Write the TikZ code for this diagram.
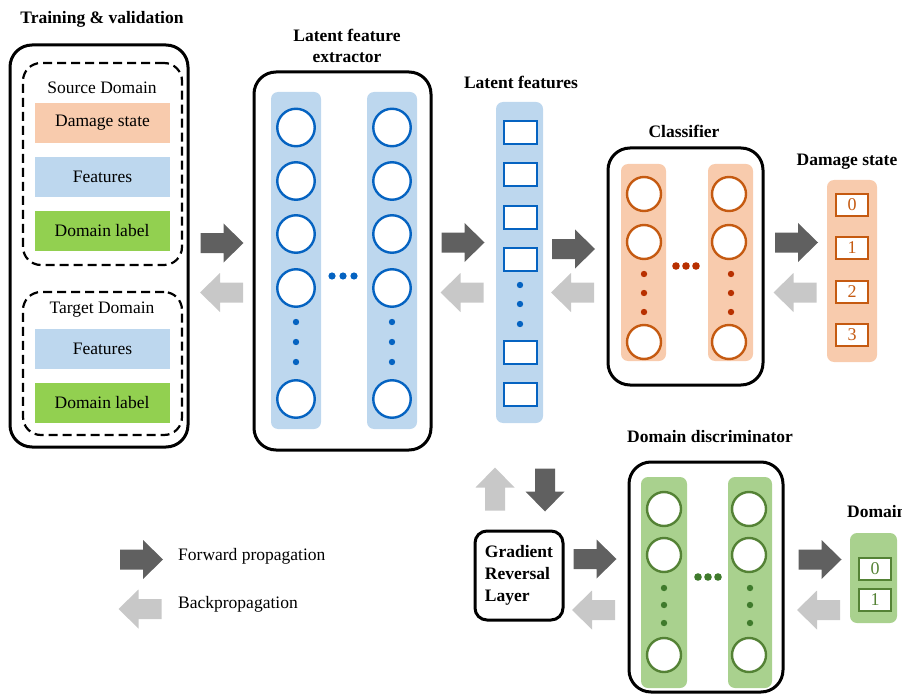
\documentclass[tikz,border=0pt]{standalone}
\usepackage{fontspec}
\setmainfont{Liberation Serif}
\definecolor{bluefill}{HTML}{BDD7EE}
\definecolor{bluedraw}{HTML}{0563C1}
\definecolor{peach}{HTML}{F8CBAD}
\definecolor{orangedraw}{HTML}{C55A11}
\definecolor{reddot}{HTML}{B83000}
\definecolor{greenlab}{HTML}{92D050}
\definecolor{greenfill}{HTML}{A9D18E}
\definecolor{greendraw}{HTML}{548235}
\definecolor{greendot}{HTML}{3F7A2C}
\definecolor{darkarr}{HTML}{606060}
\definecolor{lightarr}{HTML}{C8C8C8}
\begin{document}
\begin{tikzpicture}[x=1pt,y=-1pt,
  every node/.style={font=\fontsize{17.5}{20}\selectfont},
  ttl/.style={font=\fontsize{17.5}{21}\selectfont\bfseries, align=center, inner sep=0pt},
  outer/.style={draw, line width=3pt, rounded corners=22pt, inner sep=0pt},
  dbox/.style={draw, line width=2.2pt, dash pattern=on 9pt off 5pt, rounded corners=18pt, inner sep=0pt},
  lab/.style={minimum width=135pt, minimum height=40pt, inner sep=0pt},
  col/.style={rounded corners=7pt, inner sep=0pt},
  neuron/.style={circle, draw, line width=2.4pt, fill=white, inner sep=0pt},
  cell/.style={draw, line width=2.2pt, fill=white, minimum width=33pt, minimum height=23pt, inner sep=0pt},
  outcell/.style={draw, line width=2pt, fill=white, minimum width=32pt, minimum height=22pt, inner sep=0pt, font=\fontsize{18}{20}\selectfont},
  plain/.style={inner sep=0pt, anchor=west},
  barrow/.pic={\fill (-21.5,-10) -- (1.5,-10) -- (1.5,-19.5) -- (21.5,0) -- (1.5,19.5) -- (1.5,10) -- (-21.5,10) -- cycle;}
]
\useasboundingbox (0,0) rectangle (902,695);

% ---------- Training & validation ----------
\node[ttl] (t1) at (102,19) {Training \& validation};
\node[outer, minimum width=178pt, minimum height=402pt] (inbox) at (99,246) {};
\node[dbox, minimum width=159pt, minimum height=202pt] (src) at (102.5,164) {};
\node (srct) at (102,88) {Source Domain};
\node[lab, fill=peach] (s1) at (102.5,123) {Damage state};
\node[lab, fill=bluefill] (s2) at (102.5,177) {Features};
\node[lab, fill=greenlab] (s3) at (102,231) {Domain label};
\node[dbox, minimum width=159pt, minimum height=143pt] (tgt) at (102.5,363.5) {};
\node (tgtt) at (102,310) {Target Domain};
\node[lab, fill=bluefill] (g1) at (102.5,348.5) {Features};
\node[lab, fill=greenlab] (g2) at (102,403) {Domain label};

% ---------- Latent feature extractor ----------
\node[ttl] (t2) at (347,45.5) {Latent feature\\extractor};
\node[outer, minimum width=177pt, minimum height=378pt] (ext) at (342.5,261) {};
\node[col, fill=bluefill, minimum width=50pt, minimum height=337pt] (ec1) at (296,260.5) {};
\node[col, fill=bluefill, minimum width=50pt, minimum height=337pt] (ec2) at (392,260.5) {};
\foreach \y [count=\i] in {127.5,181,234,288,399} {
  \node[neuron, draw=bluedraw, minimum size=37.5pt] (ea\i) at (296,\y) {};
  \node[neuron, draw=bluedraw, minimum size=37.5pt] (eb\i) at (392,\y) {};
}
\foreach \y in {322,342,362} {
  \fill[bluedraw] (296,\y) circle (3.2);
  \fill[bluedraw] (392,\y) circle (3.2);
}
\foreach \x in {332,343,354} \fill[bluedraw] (\x,276) circle (3.6);

% ---------- Latent features ----------
\node[ttl] (t3) at (521,82) {Latent features};
\node[col, fill=bluefill, minimum width=47pt, minimum height=321pt] (lf) at (519.5,262.5) {};
\foreach \y [count=\i] in {132.5,174.5,217.5,259.5,352.5,394.5}
  \node[cell, draw=bluedraw] (lc\i) at (520.5,\y) {};
\foreach \y in {285,304,324} \fill[bluedraw] (520,\y) circle (3.2);

% ---------- Classifier ----------
\node[ttl] (t4) at (684,131) {Classifier};
\node[outer, minimum width=155pt, minimum height=237pt] (cls) at (685.5,266.5) {};
\node[col, fill=peach, minimum width=45pt, minimum height=197pt] (cc1) at (643.5,262.5) {};
\node[col, fill=peach, minimum width=45pt, minimum height=197pt] (cc2) at (730.5,262.5) {};
\foreach \y [count=\i] in {194,242,342} {
  \node[neuron, draw=orangedraw, minimum size=34pt] (ca\i) at (644,\y) {};
  \node[neuron, draw=orangedraw, minimum size=34pt] (cb\i) at (729,\y) {};
}
\foreach \y in {274,293,312} {
  \fill[reddot] (644,\y) circle (3.2);
  \fill[reddot] (731,\y) circle (3.2);
}
\foreach \x in {676,686,696} \fill[reddot] (\x,266) circle (3.8);

% ---------- Damage state output ----------
\node[ttl] (t5) at (847,162) {Damage state};
\node[col, fill=peach, minimum width=50pt, minimum height=182pt] (ds) at (852,271) {};
\foreach \y/\n in {205/0,248/1,291.5/2,334.5/3}
  \node[outcell, draw=orangedraw, text=orangedraw] (d\n) at (852,\y) {\n};

% ---------- Gradient Reversal Layer ----------
\node[outer, rounded corners=12pt, minimum width=88pt, minimum height=89pt,
      align=left, font=\fontsize{17.5}{22}\selectfont\bfseries] (grl) at (519,575.5) {Gradient\\Reversal\\Layer};

% ---------- Domain discriminator ----------
\node[ttl] (t6) at (710,437) {Domain discriminator};
\node[outer, minimum width=154pt, minimum height=230pt] (dis) at (706,577) {};
\node[col, fill=greenfill, minimum width=46pt, minimum height=211pt] (dc1) at (664,582.5) {};
\node[col, fill=greenfill, minimum width=44pt, minimum height=211pt] (dc2) at (750,582.5) {};
\foreach \y [count=\i] in {509,555,655} {
  \node[neuron, draw=greendraw, minimum size=34pt] (da\i) at (664,\y) {};
  \node[neuron, draw=greendraw, minimum size=34pt] (db\i) at (749,\y) {};
}
\foreach \y in {588,605,623} {
  \fill[greendot] (664,\y) circle (3.2);
  \fill[greendot] (750,\y) circle (3.2);
}
\foreach \x in {698,708,718} \fill[greendot] (\x,577) circle (3.8);

% ---------- Domain output ----------
\node[ttl, anchor=west] (t7) at (847,512) {Domain};
\node[col, fill=greenfill, minimum width=47pt, minimum height=90pt] (dm) at (873.5,578) {};
\node[outcell, draw=greendraw, text=greendraw] (o0) at (875,568.5) {0};
\node[outcell, draw=greendraw, text=greendraw] (o1) at (875,599.5) {1};

% ---------- Block arrows ----------
\pic[fill=darkarr] at (222,243) {barrow};
\pic[fill=lightarr, xscale=-1] at (221.5,292.5) {barrow};
\pic[fill=darkarr] at (463,242.5) {barrow};
\pic[fill=lightarr, xscale=-1] at (462,292.5) {barrow};
\pic[fill=darkarr] at (573.5,249) {barrow};
\pic[fill=lightarr, xscale=-1] at (572.5,292.5) {barrow};
\pic[fill=darkarr] at (796.5,242.5) {barrow};
\pic[fill=lightarr, xscale=-1] at (795,292.5) {barrow};
\pic[fill=lightarr, rotate=90] at (495,489) {barrow};
\pic[fill=darkarr, rotate=-90] at (545,490) {barrow};
\pic[fill=darkarr] at (595,559) {barrow};
\pic[fill=lightarr, xscale=-1] at (593.5,610) {barrow};
\pic[fill=darkarr] at (820,559.5) {barrow};
\pic[fill=lightarr, xscale=-1] at (818.5,610) {barrow};

% ---------- Legend ----------
\pic[fill=darkarr] at (141.5,559.5) {barrow};
\pic[fill=lightarr, xscale=-1] at (140,609) {barrow};
\node[plain] (lg1) at (178,556) {Forward propagation};
\node[plain] (lg2) at (178,604) {Backpropagation};
\end{tikzpicture}
\end{document}
